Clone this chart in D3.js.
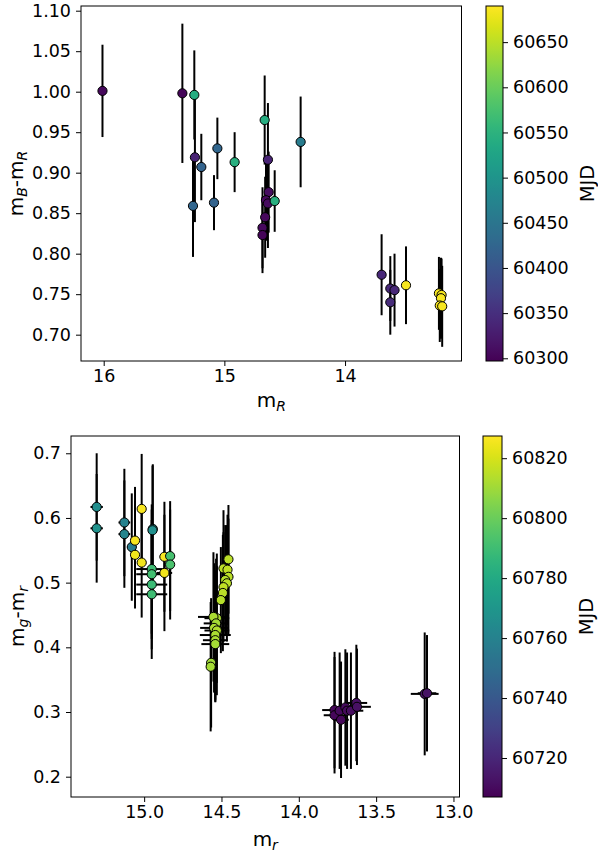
<!DOCTYPE html>
<html lang="en">
  <head>
    <meta charset="UTF-8" />
    <title>Colour-magnitude diagrams</title>
    <script src="https://d3js.org/d3.v7.min.js"></script>
    <style>
      body { margin: 0; background: #fff; }
      text { font-family: "DejaVu Sans", sans-serif; fill: #000; }
    </style>
  </head>
  <body>
    <svg width="598" height="854"></svg>
    <script>
      // ---- top panel: m_R vs m_B-m_R ----
      const topMag = [16.01, 15.348, 15.249, 15.244, 15.191, 15.058, 14.915, 15.26, 15.086,
        14.666, 14.639, 14.633, 14.655, 14.639, 14.583, 14.662, 14.684, 14.684, 14.368,
        13.697, 13.625, 13.59, 13.625, 13.495, 13.222, 13.2, 13.205, 13.215, 13.195];
      const topColor = [1.001, 0.998, 0.996, 0.919, 0.907, 0.930, 0.913, 0.859, 0.863,
        0.965, 0.916, 0.876, 0.866, 0.862, 0.865, 0.845, 0.832, 0.823, 0.938,
        0.774, 0.757, 0.755, 0.740, 0.761, 0.751, 0.749, 0.745, 0.736, 0.735];
      const topErr = [0.057, 0.086, 0.055, 0.08, 0.041, 0.038, 0.037, 0.063, 0.034,
        0.055, 0.07, 0.05, 0.05, 0.055, 0.038, 0.05, 0.05, 0.047, 0.056,
        0.05, 0.04, 0.045, 0.04, 0.048, 0.045, 0.045, 0.05, 0.045, 0.05];
      const topMjd = [60305, 60303, 60540, 60335, 60420, 60425, 60545, 60425, 60420,
        60540, 60335, 60310, 60305, 60308, 60545, 60305, 60305, 60303, 60460,
        60340, 60340, 60340, 60345, 60685, 60685, 60685, 60685, 60685, 60685];

      // ---- bottom panel: m_r vs m_g-m_r ----
      const botMag = [15.307, 15.307, 15.128, 15.128, 15.08, 15.059, 15.059, 15.016, 15.016,
        14.944, 14.946, 14.951, 14.951, 14.951, 14.951, 14.869, 14.869, 14.832, 14.832,
        14.455, 14.487, 14.461, 14.455, 14.476, 14.465, 14.487, 14.491, 14.504,
        14.53, 14.552, 14.535, 14.548, 14.53, 14.54, 14.54, 14.54, 14.567, 14.57,
        13.769, 13.769, 13.736, 13.727, 13.699, 13.688, 13.663, 13.628, 13.624, 13.186, 13.171];
      const botColor = [0.617, 0.584, 0.593, 0.575, 0.555, 0.565, 0.543, 0.614, 0.531,
        0.583, 0.581, 0.521, 0.513, 0.497, 0.482, 0.54, 0.515, 0.541, 0.528,
        0.536, 0.522, 0.52, 0.509, 0.504, 0.499, 0.493, 0.484, 0.473,
        0.445, 0.447, 0.437, 0.43, 0.426, 0.419, 0.411, 0.405, 0.376, 0.37,
        0.303, 0.295, 0.302, 0.288, 0.307, 0.302, 0.302, 0.314, 0.308, 0.328, 0.329];
      const botMagErr = [0.04, 0.04, 0.038, 0.038, 0.03, 0.025, 0.025, 0.02, 0.03,
        0.025, 0.025, 0.1, 0.1, 0.1, 0.1, 0.03, 0.05, 0.025, 0.025,
        0.025, 0.03, 0.025, 0.03, 0.025, 0.03, 0.025, 0.03, 0.025,
        0.08, 0.1, 0.08, 0.09, 0.08, 0.1, 0.08, 0.09, 0.03, 0.03,
        0.08, 0.07, 0.05, 0.05, 0.07, 0.05, 0.08, 0.07, 0.09, 0.09, 0.06];
      const botColorErr = [0.083, 0.084, 0.083, 0.083, 0.083, 0.083, 0.083, 0.085, 0.085,
        0.1, 0.1, 0.1, 0.1, 0.1, 0.1, 0.085, 0.09, 0.085, 0.085,
        0.084, 0.09, 0.085, 0.09, 0.085, 0.09, 0.085, 0.09, 0.082,
        0.1, 0.1, 0.1, 0.1, 0.1, 0.1, 0.095, 0.09, 0.1, 0.1,
        0.09, 0.09, 0.09, 0.09, 0.09, 0.09, 0.09, 0.09, 0.09, 0.095, 0.09];
      const botMjd = [60766, 60768, 60760, 60762, 60757, 60826, 60825, 60826, 60825,
        60765, 60767, 60790, 60791, 60789, 60790, 60826, 60825, 60792, 60793,
        60815, 60815, 60816, 60815, 60814, 60815, 60816, 60815, 60814,
        60812, 60812, 60811, 60812, 60813, 60812, 60812, 60811, 60810, 60811,
        60709, 60709, 60710, 60709, 60710, 60710, 60711, 60712, 60712, 60713, 60713];

      // tick labels
      const topXTicks = [16, 15, 14];
      const topYTicks = [0.70, 0.75, 0.80, 0.85, 0.90, 0.95, 1.00, 1.05, 1.10];
      const topCbTicks = [60300, 60350, 60400, 60450, 60500, 60550, 60600, 60650];
      const botXTicks = [15.0, 14.5, 14.0, 13.5, 13.0];
      const botYTicks = [0.2, 0.3, 0.4, 0.5, 0.6, 0.7];
      const botCbTicks = [60720, 60740, 60760, 60780, 60800, 60820];

      const svg = d3.select("svg");
      svg.append("rect").attr("width", 598).attr("height", 854).attr("fill", "#fff");

      const defs = svg.append("defs");
      const grad = defs.append("linearGradient").attr("id", "viridis")
        .attr("x1", 0).attr("y1", 1).attr("x2", 0).attr("y2", 0);
      d3.range(0, 1.0001, 0.02).forEach((t) => {
        grad.append("stop").attr("offset", t).attr("stop-color", d3.interpolateViridis(t));
      });

      function addLabel(g, parts, size) {
        const t = g.append("text").attr("font-size", size).attr("text-anchor", "middle");
        parts.forEach((p) => {
          const s = t.append("tspan").text(p.t);
          if (p.sub) s.attr("font-style", "italic").attr("font-size", size * 0.7).attr("dy", size * 0.22);
          else if (p.after) s.attr("dy", -size * 0.22);
        });
        return t;
      }

      function panel(cfg) {
        const { left, right, top, bottom } = cfg.box;
        const x = d3.scaleLinear().domain(cfg.xDomain).range([left, right]);
        const y = d3.scaleLinear().domain(cfg.yDomain).range([bottom, top]);
        const c = d3.scaleSequential(d3.interpolateViridis).domain(cfg.cDomain);
        const g = svg.append("g");

        const xAxis = g.append("g").attr("transform", `translate(0,${bottom})`)
          .call(d3.axisBottom(x).tickValues(cfg.xTicks).tickFormat(d3.format(cfg.xFmt)).tickSize(5).tickPadding(4));
        const yAxis = g.append("g").attr("transform", `translate(${left},0)`)
          .call(d3.axisLeft(y).tickValues(cfg.yTicks).tickFormat(d3.format(cfg.yFmt)).tickSize(5).tickPadding(5));
        [xAxis, yAxis].forEach((a) => {
          a.select(".domain").remove();
          a.selectAll("text").attr("font-size", 17.5).attr("font-family", "DejaVu Sans").attr("fill", "#000");
          a.selectAll("line").attr("stroke", "#000").attr("stroke-width", 1);
        });

        const data = cfg.mag.map((m, i) => ({
          m, col: cfg.col[i], ey: cfg.ey[i], ex: cfg.ex ? cfg.ex[i] : 0, mjd: cfg.mjd[i],
        }));

        const bars = g.append("g").attr("stroke", "#000").attr("stroke-width", 2);
        bars.selectAll("line.v").data(data).join("line").attr("class", "v")
          .attr("x1", (d) => x(d.m)).attr("x2", (d) => x(d.m))
          .attr("y1", (d) => y(d.col - d.ey)).attr("y2", (d) => y(d.col + d.ey));
        if (cfg.ex) {
          bars.selectAll("line.h").data(data).join("line").attr("class", "h")
            .attr("x1", (d) => x(d.m - d.ex)).attr("x2", (d) => x(d.m + d.ex))
            .attr("y1", (d) => y(d.col)).attr("y2", (d) => y(d.col));
        }
        g.append("g").selectAll("circle").data(data).join("circle")
          .attr("cx", (d) => x(d.m)).attr("cy", (d) => y(d.col)).attr("r", 4.6)
          .attr("fill", (d) => c(d.mjd)).attr("stroke", "#000").attr("stroke-width", 1);

        g.append("rect").attr("x", left).attr("y", top).attr("width", right - left)
          .attr("height", bottom - top).attr("fill", "none").attr("stroke", "#000").attr("stroke-width", 1);

        // axis labels
        addLabel(g, cfg.xLabel, 20).attr("x", (left + right) / 2).attr("y", cfg.xLabelY);
        addLabel(g, cfg.yLabel, 20)
          .attr("transform", `translate(${cfg.yLabelX},${(top + bottom) / 2}) rotate(-90)`);

        // colorbar
        const cb = cfg.cb;
        const cy = d3.scaleLinear().domain(cfg.cDomain).range([bottom, top]);
        g.append("rect").attr("x", cb.x).attr("y", top).attr("width", cb.w).attr("height", bottom - top)
          .attr("fill", "url(#viridis)").attr("stroke", "#000").attr("stroke-width", 1);
        const cAxis = g.append("g").attr("transform", `translate(${cb.x + cb.w},0)`)
          .call(d3.axisRight(cy).tickValues(cfg.cTicks).tickFormat(d3.format("d")).tickSize(5).tickPadding(5));
        cAxis.select(".domain").remove();
        cAxis.selectAll("text").attr("font-size", 17.5).attr("font-family", "DejaVu Sans").attr("fill", "#000");
        cAxis.selectAll("line").attr("stroke", "#000");
        g.append("text").attr("font-size", 19.5).attr("text-anchor", "middle")
          .attr("transform", `translate(${cb.labelX},${(top + bottom) / 2}) rotate(-90)`).text("MJD");
      }

      panel({
        box: { left: 81, right: 461.5, top: 6, bottom: 361 },
        xDomain: [16.188, 13.035], yDomain: [0.6675, 1.1058], cDomain: [60297, 60690],
        xTicks: topXTicks, yTicks: topYTicks, cTicks: topCbTicks, xFmt: "d", yFmt: ".2f",
        mag: topMag, col: topColor, ey: topErr, mjd: topMjd,
        xLabel: [{ t: "m" }, { t: "R", sub: true }], xLabelY: 407,
        yLabel: [{ t: "m" }, { t: "B", sub: true }, { t: "-m", after: true }, { t: "R", sub: true }], yLabelX: 23,
        cb: { x: 486, w: 17, labelX: 594 },
      });

      panel({
        box: { left: 71, right: 459.5, top: 436, bottom: 797 },
        xDomain: [15.473, 12.961], yDomain: [0.1686, 0.7267], cDomain: [60707, 60827.4],
        xTicks: botXTicks, yTicks: botYTicks, cTicks: botCbTicks, xFmt: ".1f", yFmt: ".1f",
        mag: botMag, col: botColor, ey: botColorErr, ex: botMagErr, mjd: botMjd,
        xLabel: [{ t: "m" }, { t: "r", sub: true }], xLabelY: 846,
        yLabel: [{ t: "m" }, { t: "g", sub: true }, { t: "-m", after: true }, { t: "r", sub: true }], yLabelX: 24,
        cb: { x: 483, w: 19, labelX: 593 },
      });
    </script>
  </body>
</html>
